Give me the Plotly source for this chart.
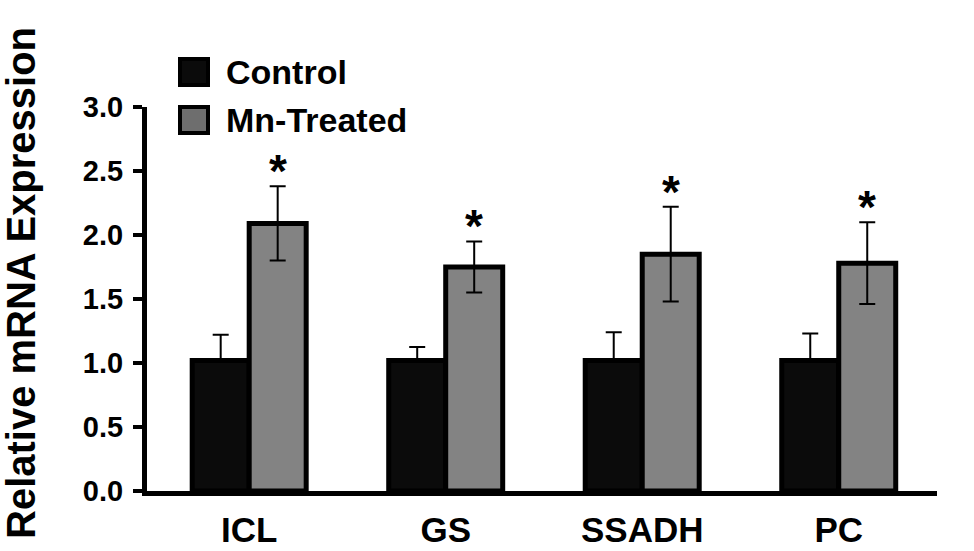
import plotly.graph_objects as go

categories = ["ICL", "GS", "SSADH", "PC"]
series_names = ["Control", "Mn-Treated"]
control = [1.02, 1.02, 1.02, 1.02]
control_err = [0.20, 0.105, 0.22, 0.21]
treated = [2.09, 1.75, 1.85, 1.78]
treated_err = [0.29, 0.20, 0.37, 0.32]
significance = ["*", "*", "*", "*"]
y_ticks = [0.0, 0.5, 1.0, 1.5, 2.0, 2.5, 3.0]
y_title = "Relative mRNA Expression"

FONT = "Liberation Sans, Arial, sans-serif"
CTRL_COLOR = "#0b0b0b"
MN_COLOR = "#838383"
MN_LEGEND_COLOR = "#6e6e6e"

# plot-area pixel geometry (for legend placement in paper coords)
L, R, T, B = 147, 937, 107, 491
W, H = R - L, B - T


def px_x(p):
    return (p - L) / W


def px_y(p):
    return (B - p) / H


fig = go.Figure()
fig.add_trace(go.Bar(
    x=categories, y=control, name=series_names[0],
    marker=dict(color=CTRL_COLOR, line=dict(color="black", width=5)),
    error_y=dict(type="data", symmetric=False, array=control_err,
                 arrayminus=[0] * len(control_err),
                 color="black", thickness=2, width=8),
    showlegend=False,
))
fig.add_trace(go.Bar(
    x=categories, y=treated, name=series_names[1],
    marker=dict(color=MN_COLOR, line=dict(color="black", width=5)),
    error_y=dict(type="data", array=treated_err, color="black", thickness=2, width=8),
    showlegend=False,
))

bar_gap = 0.42
half_bar = (1 - bar_gap) / 4

annotations = []
# significance stars above treated error bars
for i, (c, v, e, s) in enumerate(zip(categories, treated, treated_err, significance)):
    annotations.append(dict(
        x=i + half_bar, y=v + e, xref="x", yref="y", text=s, showarrow=False,
        yanchor="middle", yshift=15,
        font=dict(family=FONT, size=46, color="black", weight="bold"),
    ))

# legend drawn manually
shapes = []
leg_rows = [(57, 87, CTRL_COLOR), (105, 135, MN_LEGEND_COLOR)]
for (y0, y1, col), name in zip(leg_rows, series_names):
    shapes.append(dict(
        type="rect", xref="paper", yref="paper",
        x0=px_x(180), x1=px_x(208), y0=px_y(y1 - 2), y1=px_y(y0 + 2),
        fillcolor=col, line=dict(color="black", width=4),
    ))
    annotations.append(dict(
        x=px_x(224), y=px_y((y0 + y1) / 2), xref="paper", yref="paper",
        text=name, showarrow=False, xanchor="left", yanchor="middle",
        font=dict(family=FONT, size=34, color="black", weight="bold"),
    ))

# y-axis title
annotations.append(dict(
    x=px_x(21), y=px_y(283), xref="paper", yref="paper", text=y_title,
    showarrow=False, textangle=-90, xanchor="center", yanchor="middle",
    font=dict(family=FONT, size=40, color="black", weight="bold"),
))

fig.update_layout(
    width=974, height=551,
    margin=dict(l=L, r=974 - R, t=T, b=551 - B, autoexpand=False),
    paper_bgcolor="white", plot_bgcolor="white",
    barmode="group", bargap=bar_gap, bargroupgap=0,
    shapes=shapes, annotations=annotations,
    showlegend=False,
)
fig.update_xaxes(
    range=[-0.52, 3.5], showline=True, linecolor="black", linewidth=5,
    showgrid=False, zeroline=False, ticks="", automargin=False,
    tickfont=dict(family=FONT, size=35, color="black", weight="bold"),
    ticklabelstandoff=4,
)
fig.update_yaxes(
    range=[0, 3], tickvals=y_ticks, ticktext=[f"{v:.1f}" for v in y_ticks],
    showline=True, linecolor="black", linewidth=5, showgrid=False, zeroline=False,
    ticks="outside", ticklen=9, tickwidth=4, tickcolor="black", automargin=False,
    tickfont=dict(family=FONT, size=29, color="black", weight="bold"),
    ticklabelstandoff=4,
)

fig.write_html("out.html", config={"displayModeBar": False},
               post_script="document.body.style.margin='0';")
